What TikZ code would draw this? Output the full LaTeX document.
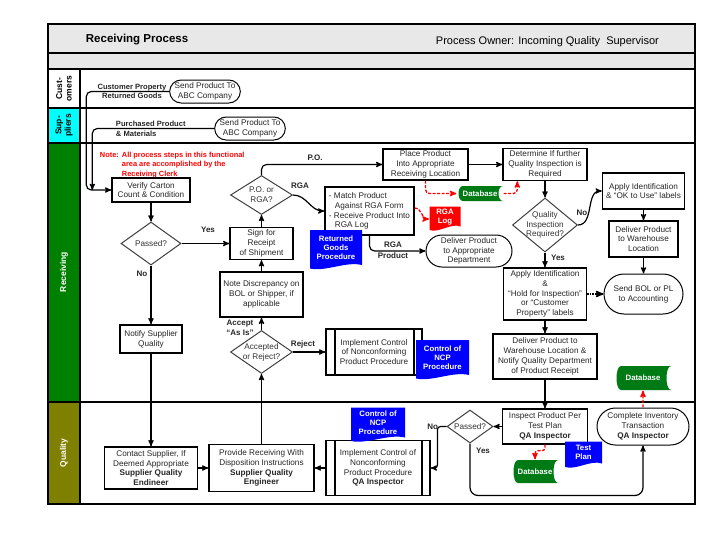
\documentclass[tikz,border=0pt]{standalone}
\usepackage{fontspec}
\setmainfont{Liberation Sans}
\usepackage{tikz}
\usetikzlibrary{arrows}
\usetikzlibrary{calc}
\usetikzlibrary{positioning}
\usetikzlibrary{shapes}

\definecolor{lanegreen}{RGB}{0,128,0}
\definecolor{laneolive}{RGB}{128,128,0}
\definecolor{lanecyan}{RGB}{0,255,255}
\definecolor{docblue}{RGB}{0,0,255}
\definecolor{dbgreen}{RGB}{0,122,20}
\definecolor{headgray}{RGB}{232,232,232}

\newcommand{\boxfont}{\fontsize{8.2}{9.8}\selectfont}
\newcommand{\lblfont}{\fontsize{8}{9.6}\selectfont}
\newcommand{\docfont}{\fontsize{7.8}{9}\selectfont}
\newcommand{\notefont}{\fontsize{7.4}{9.5}\selectfont}

\begin{document}
\begin{tikzpicture}[x=1pt, y=-1pt, >=stealth', line width=1.2pt,
	main box/.style={rectangle, draw, line width=1.4pt, fill=white, align=center, font=\boxfont, text=black!85, inner sep=1pt},
	main term/.style={rounded rectangle, draw, line width=1pt, fill=white, align=center, font=\boxfont, text=black!85, inner sep=1pt},
	main decision/.style={diamond, draw=black!75, line width=1pt, fill=white, inner sep=0pt},
	decision text/.style={align=center, font=\boxfont, text=black!80},
	main label/.style={font=\bfseries\lblfont, text=black!85, align=center},
	lane text/.style={font=\bfseries\fontsize{8.5}{9.5}\selectfont, align=center, rotate=90},
	main predef/.style={main box, path picture={
		\draw [line width=1.2pt] ([xshift=9pt]path picture bounding box.north west) -- ([xshift=9pt]path picture bounding box.south west)
		([xshift=-8pt]path picture bounding box.north east) -- ([xshift=-8pt]path picture bounding box.south east);}},
	main doc/.style={rectangle, align=center, font=\bfseries\docfont, text=white, inner sep=1pt, text depth=5pt, path picture={
		\fill [#1] let \p1=(path picture bounding box.north west), \p2=(path picture bounding box.south east) in
		(\x1,\y1) -- (\x2,\y1) -- (\x2,{\y2+5pt}) .. controls ({0.3*\x1+0.7*\x2},{\y2+9pt}) and ({0.7*\x1+0.3*\x2},{\y2-2pt}) .. (\x1,{\y2+1.5pt}) -- cycle;}},
	main db/.style={rectangle, align=center, font=\bfseries\docfont, text=white, inner sep=1pt, path picture={
		\fill [dbgreen] let \p1=(path picture bounding box.north west), \p2=(path picture bounding box.south east) in
		({\x1+6pt},\y1) -- (\x2,\y1) .. controls ({\x2-6pt},\y1) and ({\x2-6pt},\y2) .. (\x2,\y2) -- ({\x1+6pt},\y2) .. controls (\x1,\y2) and (\x1,\y1) .. cycle;}},
	red link/.style={red, dash pattern=on 3pt off 1.5pt, line width=1.3pt},
]
\useasboundingbox (0,0) rectangle (728,546);
% lanes
\fill [headgray] (48,24) rectangle (695,69);
\fill [lanecyan] (48,108) rectangle (80,143);
\fill [lanegreen] (48,143) rectangle (80,402);
\fill [laneolive] (48,402) rectangle (80,504);
\draw [line width=1.2pt] (48,53) -- (695,53) (48,69) -- (695,69) (48,108) -- (695,108)
	(48,143) -- (695,143) (48,402) -- (695,402) (80,69) -- (80,504);
\draw [line width=1.6pt] (48,24) rectangle (695,504);
\node [anchor=west, font=\bfseries\fontsize{11.5}{13}\selectfont] at (82,40) (title) {Receiving Process};
\node [anchor=west, font=\fontsize{11}{13}\selectfont] at (432,42) (owner) {Process Owner: Incoming Quality\ \ Supervisor};
\node [lane text] at (64,88.5) (custLane) {Cust-\\omers};
\node [lane text] at (64,125.5) (supLane) {Sup-\\pliers};
\node [lane text, text=white] at (64,272) (recLane) {Receiving};
\node [lane text, text=white] at (64,453) (qualLane) {Quality};
% customers and suppliers
\node [main label, font=\bfseries\fontsize{7.6}{9.6}\selectfont] at (132,91.5) (custText) {Customer Property\\Returned Goods};
\node [main term, minimum width=58pt, minimum height=23pt] at (205,91.5) (custSend) {Send Product To\\ABC Company};
\node [main label, font=\bfseries\fontsize{7.6}{9.6}\selectfont, align=left, anchor=west] at (112,128.5) (supText) {Purchased Product\\\& Materials};
\node [main term, minimum width=70pt, minimum height=23pt] at (250,128.5) (supSend) {Send Product To\\ABC Company};
% receiving
\node [anchor=north west, align=left, text=red, font=\bfseries\notefont] at (96,148) (note)
	{\makebox[22pt][l]{Note:}All process steps in this functional\\\hspace*{22pt}area are accomplished by the\\\hspace*{22pt}Receiving Clerk};
\node [main box, minimum width=78pt, minimum height=24pt] at (151,190) (verify) {Verify Carton\\Count \& Condition};
\node [main decision, minimum width=60pt, minimum height=43pt, label={[decision text]center:Passed?}] at (151,243.5) (passed1) {};
\node [main box, minimum width=62pt, minimum height=28pt] at (151,339) (notify) {Notify Supplier\\Quality};
\node [main box, minimum width=63pt, minimum height=32pt] at (261.5,243.5) (sign) {Sign for\\Receipt\\of Shipment};
\node [main decision, minimum width=62pt, minimum height=39pt, label={[decision text]center:{P.O. or\\RGA?}}] at (261.5,195) (poRga) {};
\node [main box, minimum width=83pt, minimum height=45pt] at (261.5,294.5) (discrep) {Note Discrepancy on\\BOL or Shipper, if\\applicable};
\node [main decision, minimum width=62pt, minimum height=43pt, label={[decision text]center:{Accepted\\or Reject?}}] at (261.5,352) (accept) {};
\node [main predef, minimum width=96pt, minimum height=46pt] at (374,352) (ncpRec) {Implement Control\\of Nonconforming\\Product Procedure};
\node [main doc=docblue, minimum width=53pt, minimum height=40pt] at (442.5,360) (ncpDoc1) {Control of\\NCP\\Procedure};
\node [main box, minimum width=85pt, minimum height=31pt] at (425.5,164.5) (place) {Place Product\\Into Appropriate\\Receiving Location};
\node [main box, minimum width=84pt, minimum height=32pt] at (545,164.5) (determine) {Determine If further\\Quality Inspection is\\Required};
\node [main db, minimum width=46pt, minimum height=15pt] at (480,193.5) (db1) {Database};
\node [main box, align=left, minimum width=89pt, minimum height=48pt] at (369.5,211) (match)
	{- Match Product\\\hspace*{6pt}Against RGA Form\\- Receive Product Into\\\hspace*{6pt}RGA Log};
\node [main doc=red, minimum width=31pt, minimum height=25pt] at (445,219) (rgaLog) {RGA\\Log};
\node [main doc=docblue, minimum width=52pt, minimum height=40pt] at (336,250) (rgDoc) {Returned\\Goods\\Procedure};
\node [main term, minimum width=88pt, minimum height=32pt] at (469,251) (deliverDept) {Deliver Product\\to Appropriate\\Department};
\node [main decision, minimum width=65pt, minimum height=54pt, label={[decision text]center:{Quality\\Inspection\\Required?}}] at (545,225) (qir) {};
\node [main box, minimum width=82pt, minimum height=36pt] at (643.5,191) (applyOk) {Apply Identification\\\& ``OK to Use'' labels};
\node [main box, minimum width=69pt, minimum height=36pt] at (643.5,239) (deliverWh) {Deliver Product\\to Warehouse\\Location};
\node [main term, minimum width=81pt, minimum height=40pt] at (643.5,294) (sendBol) {Send BOL or PL\\to Accounting};
\node [main box, minimum width=83pt, minimum height=52pt] at (545,294) (applyHold)
	{Apply Identification\\\&\\``Hold for Inspection''\\or ``Customer\\Property'' labels};
\node [main box, minimum width=104pt, minimum height=45pt] at (545,356.5) (deliverNotify)
	{Deliver Product to\\Warehouse Location \&\\Notify Quality Department\\of Product Receipt};
\node [main db, minimum width=56pt, minimum height=24pt] at (643,378) (db2) {Database};
% quality
\node [main box, minimum width=93pt, minimum height=42pt] at (151,468) (contact)
	{Contact Supplier, If\\Deemed Appropriate\\\textbf{Supplier Quality}\\\textbf{Endineer}};
\node [main box, minimum width=105pt, minimum height=47pt] at (261.5,468) (provide)
	{Provide Receiving With\\Disposition Instructions\\\textbf{Supplier Quality}\\\textbf{Engineer}};
\node [main predef, minimum width=104pt, minimum height=55pt] at (378,468) (ncpQa)
	{Implement Control of\\Nonconforming\\Product Procedure\\\textbf{QA Inspector}};
\node [main doc=docblue, minimum width=54pt, minimum height=35pt] at (378,425) (ncpDoc2) {Control of\\NCP\\Procedure};
\node [main decision, minimum width=46pt, minimum height=33pt, label={[decision text]center:Passed?}] at (470,426.5) (passed2) {};
\node [main box, minimum width=85pt, minimum height=35pt] at (545,426.5) (inspect) {Inspect Product Per\\Test Plan\\\textbf{QA Inspector}};
\node [main doc=docblue, minimum width=37pt, minimum height=27pt] at (583.5,455) (testPlan) {Test\\Plan};
\node [main db, minimum width=46pt, minimum height=23pt] at (535,471.5) (db3) {Database};
\node [main term, minimum width=94pt, minimum height=37pt] at (643,426.5) (complete) {Complete Inventory\\Transaction\\\textbf{QA Inspector}};
%
\draw [->, rounded corners=5pt] (custSend.west) -| ([xshift=-25pt]verify.west) -- (verify.west);
\draw [->, rounded corners=5pt] (supSend.west) -| ([xshift=-19pt]verify.west);
\draw [->] (verify) -- (passed1);
\draw [->] (passed1.east) -- (sign.west);
\node [main label] at (208,230) {Yes};
\draw [->] (passed1.south) -- (notify.north);
\node [main label] at (142,274) {No};
\draw [->] (notify) -- (contact);
\draw [->] (contact) -- (provide);
\draw [->] (ncpQa.west) -- (provide.east);
\draw [->] (provide) -- (accept);
\draw [->] (accept) -- (discrep);
\node [main label] at (240,327.5) {Accept\\``As Is''};
\draw [->] (accept.east) -- (ncpRec.west);
\node [main label] at (303,344) {Reject};
\draw [->] (discrep) -- (sign);
\draw [->] (sign) -- (poRga);
\draw [->, rounded corners=5pt] (poRga.north) |- (place.west);
\node [main label] at (315,158) {P.O.};
\draw [->] (poRga.east) to [out=0, in=180] (match.west);
\node [main label] at (300,186) {RGA};
\draw [->, red link, rounded corners=4pt] (place.south) |- (db1.west);
\draw [->, red link, rounded corners=4pt] (db1.east) -| ([xshift=15pt]determine.south west);
\draw [->, red link] ([yshift=3pt]match.east) to [out=0, in=180] (rgaLog.west);
\draw [->, rounded corners=5pt] (match.south) |- (deliverDept.west);
\node [main label, font=\bfseries\fontsize{8}{11}\selectfont] at (393,250) {RGA\\Product};
\draw [->] (place) -- (determine);
\draw [->] (determine) -- (qir);
\draw [->] (qir.east) to [out=0, in=180] (applyOk.west);
\node [main label] at (582,213) {No};
\draw [->] (applyOk) -- (deliverWh);
\draw [->] (deliverWh) -- (sendBol);
\draw [->] (qir) -- (applyHold);
\node [main label] at (558,258) {Yes};
\draw [->, densely dotted, line width=1.6pt] (applyHold) -- (sendBol);
\draw [->] (applyHold) -- (deliverNotify);
\draw [->] (deliverNotify) -- (inspect);
\draw [->] (inspect) -- (passed2);
\draw [->, rounded corners=3pt] (passed2.west) -- ++(-9,0) |- (ncpQa.east);
\node [main label, anchor=east] at (442,427) {No};
\draw [->, rounded corners=8pt] (passed2.south) |- ($(complete.south)+(0,50)$) -- (complete.south);
\node [main label] at (483,451) {Yes};
\draw [->, red link, rounded corners=3pt] (inspect.south) -- ++(0,6) -| (db3.north);
\draw [->, red link] (complete) -- (db2);
\end{tikzpicture}
\end{document}
